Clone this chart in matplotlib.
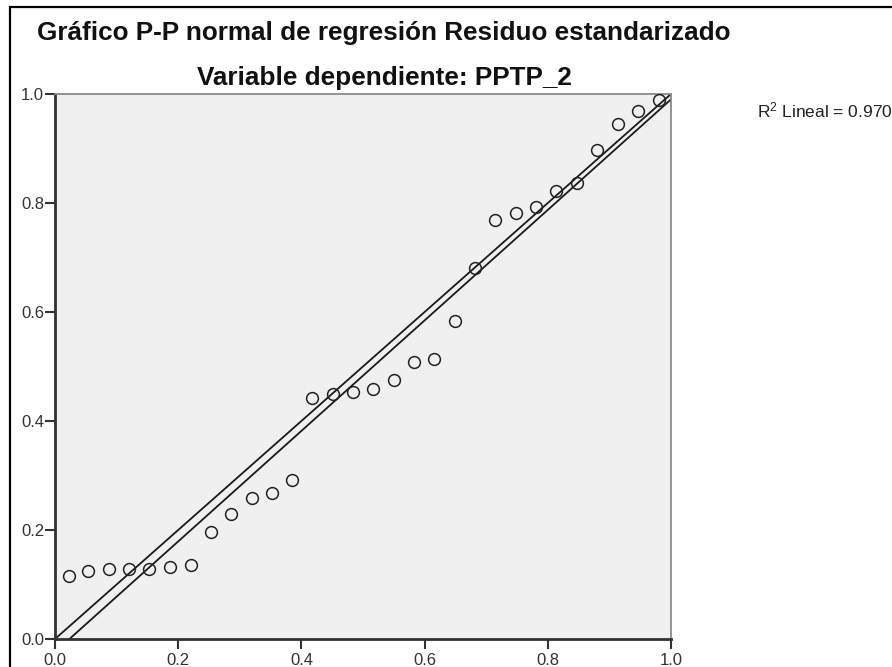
import matplotlib
matplotlib.use("Agg")
import matplotlib.pyplot as plt
from matplotlib.patches import Rectangle
import numpy as np

plt.rcParams['font.family'] = ['Liberation Sans', 'DejaVu Sans']
plt.rcParams['mathtext.default'] = 'regular'

obs_prob = [0.022, 0.054, 0.087, 0.120, 0.153, 0.187, 0.220, 0.253, 0.286, 0.319,
            0.352, 0.385, 0.418, 0.451, 0.484, 0.517, 0.550, 0.583, 0.616, 0.649,
            0.682, 0.715, 0.748, 0.781, 0.814, 0.847, 0.880, 0.914, 0.947, 0.980]
exp_prob = [0.116, 0.125, 0.129, 0.129, 0.129, 0.133, 0.135, 0.197, 0.229, 0.258,
            0.268, 0.292, 0.443, 0.449, 0.453, 0.459, 0.475, 0.509, 0.514, 0.584,
            0.681, 0.769, 0.782, 0.793, 0.822, 0.837, 0.897, 0.945, 0.969, 0.989]
ticks = [0.0, 0.2, 0.4, 0.6, 0.8, 1.0]
tick_labels = ['0.0', '0.2', '0.4', '0.6', '0.8', '1.0']
r2_text = 'R$^{2}$ Lineal = 0.970'

W, H = 892, 667
fig = plt.figure(figsize=(W / 100, H / 100), dpi=100)
fig.patch.set_facecolor('white')

ax = fig.add_axes([55 / W, 1 - 639 / H, 616 / W, 545 / H])
ax.set_facecolor('#f0f0f0')

# diagonal de referencia y recta ajustada
ax.plot([0, 1], [0, 1], color='#1a1a1a', lw=1.3, zorder=2)
slope, inter = np.polyfit(obs_prob, exp_prob, 1)
xx = np.array([0.0, 1.0])
ax.plot(xx, inter + slope * xx, color='#1a1a1a', lw=1.3, zorder=2)

ax.plot(obs_prob, exp_prob, linestyle='none', marker='o', markersize=8.5,
        markerfacecolor='none', markeredgecolor='#222222', markeredgewidth=1.1,
        zorder=3)

ax.set_xlim(0, 1)
ax.set_ylim(0, 1)
ax.set_xticks(ticks)
ax.set_xticklabels(tick_labels)
ax.set_yticks(ticks)
ax.set_yticklabels(tick_labels)
ax.tick_params(axis='both', direction='out', length=7, width=1.5,
               color='#333333', labelcolor='#333333', labelsize=12)
ax.tick_params(axis='x', pad=3.0)
ax.tick_params(axis='y', pad=0.8)

for s in ['left', 'bottom']:
    ax.spines[s].set_color('#333333')
    ax.spines[s].set_linewidth(2.0)
for s in ['top', 'right']:
    ax.spines[s].set_color('#8a8a8a')
    ax.spines[s].set_linewidth(1.3)

fig.text(37 / W, 1 - 33 / H, 'Gráfico P-P normal de regresión Residuo estandarizado',
         ha='left', va='center', fontsize=18.8, fontweight='bold', color='#111111')
fig.text(384 / W, 1 - 78 / H, 'Variable dependiente: PPTP_2',
         ha='center', va='center', fontsize=18.8, fontweight='bold', color='#111111')
fig.text(757 / W, 1 - 110 / H, r2_text, ha='left', va='center',
         fontsize=12.5, color='#222222')

# marco exterior
fig.add_artist(Rectangle((10 / W, -0.1), 1.2, 1 - 7 / H + 0.1,
                         transform=fig.transFigure, fill=False,
                         edgecolor='black', lw=1.6))

fig.savefig('out.png', dpi=100)
